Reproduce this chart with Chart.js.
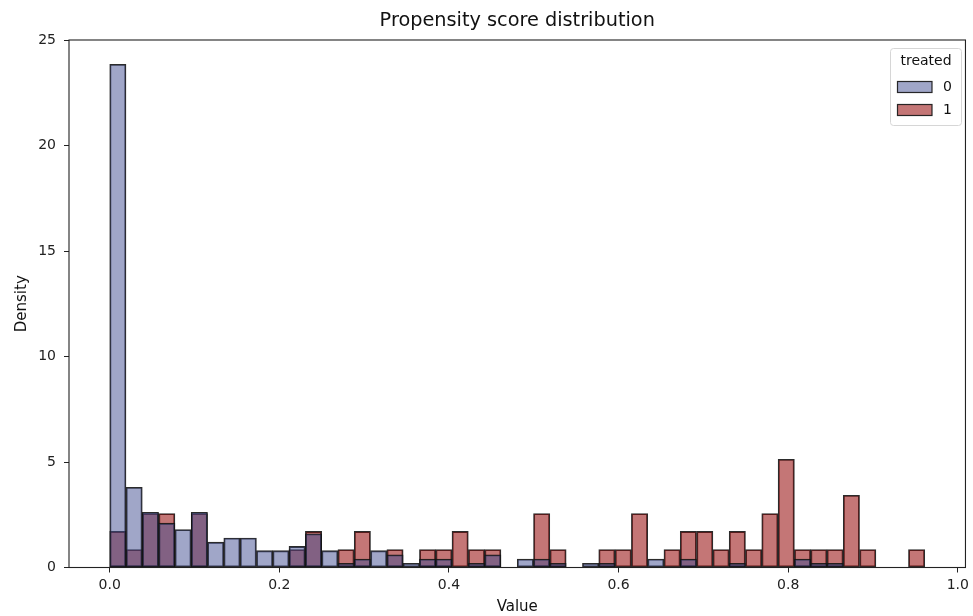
<!DOCTYPE html>
<html><head><meta charset="utf-8">
<script src="https://cdn.jsdelivr.net/npm/chart.js@4.4.0/dist/chart.umd.min.js"></script>
<style>html,body{margin:0;padding:0;background:#fff;}#wrap{width:973px;height:616px;}</style>
</head><body><div id="wrap"><canvas id="c" width="973" height="616"></canvas></div>
<script>
// bin centres (50 bins of width ~0.0192 from 0 to ~0.961)
const binCenters = [0.0096,0.0288,0.0480,0.0673,0.0865,0.1057,0.1249,0.1441,0.1634,0.1826,
  0.2018,0.2210,0.2403,0.2595,0.2787,0.2979,0.3171,0.3364,0.3556,0.3748,
  0.3940,0.4132,0.4325,0.4517,0.4709,0.4901,0.5093,0.5286,0.5478,0.5670,
  0.5862,0.6055,0.6247,0.6439,0.6631,0.6823,0.7016,0.7208,0.7400,0.7592,
  0.7784,0.7977,0.8169,0.8361,0.8553,0.8745,0.8938,0.9130,0.9322,0.9514];
// density, treated = 0
const density0 = [23.85,3.8,2.62,2.1,1.8,2.62,1.2,1.4,1.4,0.8,
  0.8,1.0,1.6,0.8,0.2,0.4,0.8,0.6,0.2,0.4,
  0.4,0,0.2,0.6,0,0.4,0.4,0.2,0,0.2,
  0.2,0,0,0.4,0,0.4,0,0,0.2,0,
  0,0,0.4,0.2,0.2,0,0,0,0,0];
// density, treated = 1
const density1 = [1.71,0.855,2.56,2.56,0,2.56,0,0,0,0,
  0,0.855,1.71,0,0.855,1.71,0,0.855,0,0.855,
  0.855,1.71,0.855,0.855,0,0,2.56,0.855,0,0,
  0.855,0.855,2.56,0,0.855,1.71,1.71,0.855,1.71,0.855,
  2.56,5.13,0.855,0.855,0.855,3.42,0.855,0,0,0.855];
const seriesLabels = ['0','1'];
const legendTitle = 'treated';
const chartTitle = 'Propensity score distribution';
const xLabel = 'Value';
const yLabel = 'Density';
const xTickValues = [0.0,0.2,0.4,0.6,0.8,1.0];
const yTickValues = [0,5,10,15,20,25];

const FONT = "'DejaVu Sans', sans-serif";
const toPts = arr => binCenters.map((x,i)=>({x:x, y: arr[i] > 0 ? arr[i] : null}));

const framePlugin = {
  id:'frame',
  afterDraw(chart){
    const {ctx, chartArea:a} = chart;
    ctx.save();
    ctx.strokeStyle = '#222'; ctx.lineWidth = 1.1;
    ctx.strokeRect(a.left, a.top, a.right-a.left, a.bottom-a.top);
    // title
    ctx.fillStyle = '#111';
    ctx.font = "19.3px " + FONT;
    ctx.textAlign = 'center'; ctx.textBaseline = 'middle';
    ctx.fillText(chartTitle, (a.left+a.right)/2, 21);
    // legend
    const lx = 890.5, ly = 48.5, lw = 71, lh = 77;
    ctx.beginPath();
    if (ctx.roundRect) ctx.roundRect(lx, ly, lw, lh, 3); else ctx.rect(lx, ly, lw, lh);
    ctx.fillStyle = 'rgba(255,255,255,0.8)'; ctx.fill();
    ctx.strokeStyle = '#d6d6d6'; ctx.lineWidth = 1; ctx.stroke();
    ctx.fillStyle = '#111'; ctx.font = "14px " + FONT;
    ctx.textAlign = 'center'; ctx.textBaseline = 'middle';
    ctx.fillText(legendTitle, lx + lw/2, 61);
    chart.data.datasets.forEach((ds, i) => {
      const cy = 87 + i*23;
      ctx.fillStyle = '#fff'; ctx.fillRect(897.5, cy-5.5, 34.5, 11);
      ctx.fillStyle = ds.backgroundColor; ctx.fillRect(897.5, cy-5.5, 34.5, 11);
      ctx.strokeStyle = ds.borderColor; ctx.lineWidth = 1.2; ctx.strokeRect(897.5, cy-5.5, 34.5, 11);
      ctx.fillStyle = '#111'; ctx.textAlign = 'left';
      ctx.fillText(ds.label, 943, cy);
    });
    ctx.restore();
  }
};

new Chart(document.getElementById('c'), {
  type: 'bar',
  data: {
    datasets: [
      {label: seriesLabels[0], data: toPts(density0), backgroundColor: 'rgba(65,77,145,0.5)',
       borderColor: 'rgba(20,20,20,0.9)', borderWidth: 1.2, borderSkipped: false, order: 0,
       grouped: false, barPercentage: 1, categoryPercentage: 1},
      {label: seriesLabels[1], data: toPts(density1), backgroundColor: 'rgba(148,6,6,0.55)',
       borderColor: 'rgba(20,20,20,0.9)', borderWidth: 1.2, borderSkipped: false, order: 1,
       grouped: false, barPercentage: 1, categoryPercentage: 1}
    ]
  },
  options: {
    responsive: false, animation: false, devicePixelRatio: 1,
    datasets: {bar: {barPercentage: 1, categoryPercentage: 1, grouped: false}},
    layout: {padding: {left: 0, right: 4, top: 40, bottom: 0}},
    plugins: {legend: {display: false}, title: {display: false}, tooltip: {enabled: false}},
    scales: {
      x: {
        type: 'linear', min: -0.048, max: 1.009, offset: false,
        afterFit(s){ s.height = 48.5; },
        afterBuildTicks(s){ s.ticks = xTickValues.map(v=>({value:v})); },
        ticks: {callback: v => Number(v).toFixed(1), color: '#222', font: {family: FONT, size: 14}, padding: 4, maxRotation: 0, autoSkip: false},
        grid: {drawOnChartArea: false, offset: false, tickLength: 5, color: '#222', lineWidth: 1},
        border: {display: false},
        title: {display: true, text: xLabel, color: '#111', font: {family: FONT, size: 15}, padding: {top: 0, bottom: 0}}
      },
      y: {
        type: 'linear', min: 0, max: 25,
        afterFit(s){ s.width = 69; },
        afterBuildTicks(s){ s.ticks = yTickValues.map(v=>({value:v})); },
        ticks: {color: '#222', font: {family: FONT, size: 14}, padding: 8},
        grid: {drawOnChartArea: false, tickLength: 5, color: '#222', lineWidth: 1},
        border: {display: false},
        title: {display: true, text: yLabel, color: '#111', font: {family: FONT, size: 15}, padding: {top: 13, bottom: 0}}
      }
    }
  },
  plugins: [framePlugin]
});
</script></body></html>
